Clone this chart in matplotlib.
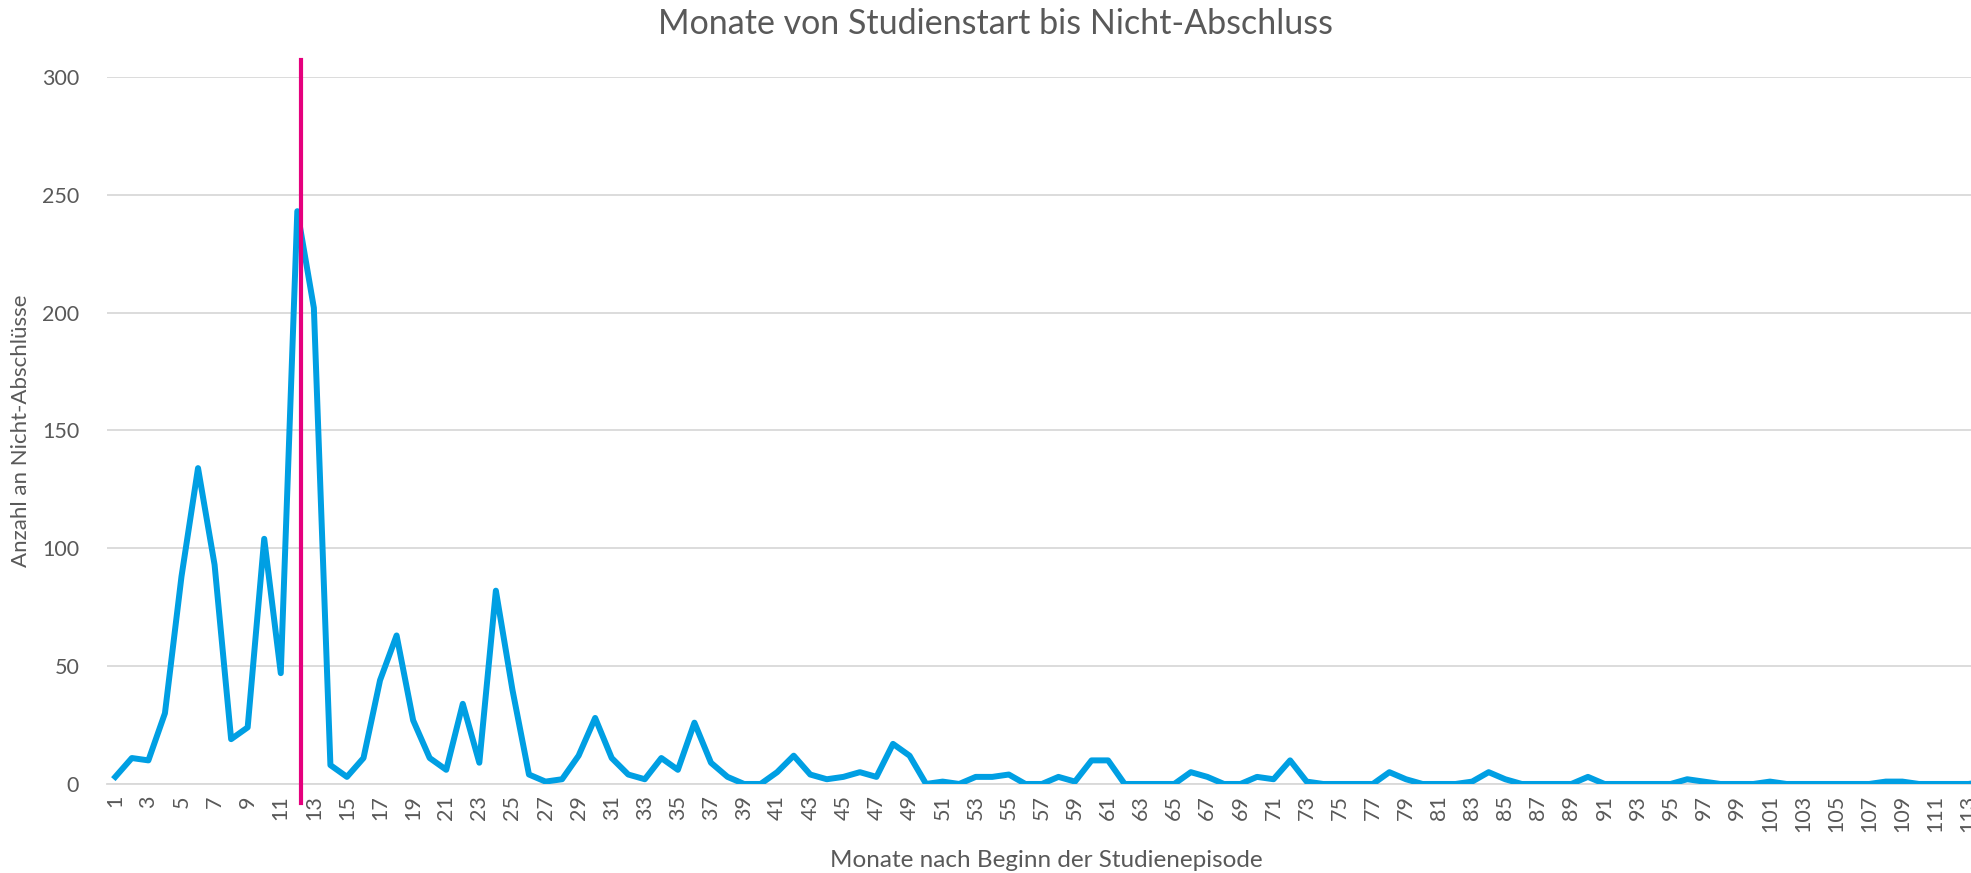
import matplotlib
matplotlib.use("Agg")
import matplotlib.pyplot as plt
import numpy as np

plt.rcParams['font.family'] = ['Lato', 'DejaVu Sans']

# Monate 1..114 (114 is only partly visible at the right edge)
monate = np.arange(1, 115)
anzahl = [3, 11, 10, 30, 88, 134, 93, 19, 24, 104,
          47, 243, 202, 8, 3, 11, 44, 63, 27, 11,
          6, 34, 9, 82, 40, 4, 1, 2, 12, 28,
          11, 4, 2, 11, 6, 26, 9, 3, 0, 0,
          5, 12, 4, 2, 3, 5, 3, 17, 12, 0,
          1, 0, 3, 3, 4, 0, 0, 3, 1, 10,
          10, 0, 0, 0, 0, 5, 3, 0, 0, 3,
          2, 10, 1, 0, 0, 0, 0, 5, 2, 0,
          0, 0, 1, 5, 2, 0, 0, 0, 0, 3,
          0, 0, 0, 0, 0, 2, 1, 0, 0, 0,
          1, 0, 0, 0, 0, 0, 0, 1, 1, 0,
          0, 0, 0, 1]
markierung_x = 12.2          # vertical marker line (between month 12 and 13)
markierung_y = (-8, 307)

blau = '#009FE3'
magenta = '#E5007D'
grau_text = '#595959'
grau_gitter = '#D9D9D9'

fig = plt.figure(figsize=(19.71, 8.73), dpi=100)
ax = fig.add_axes([0.0543, 0.102, 0.9457, 0.81])

ax.plot(monate, anzahl, color=blau, lw=4.3, solid_joinstyle='round', zorder=3)
ax.plot([markierung_x, markierung_x], markierung_y, color=magenta, lw=3,
        clip_on=False, zorder=4)

ax.set_xlim(0.5, 113.15)
ax.set_ylim(0, 300)
ax.set_yticks(np.arange(0, 301, 50))
ax.set_xticks(monate[::2])
ax.set_xticklabels([str(m) for m in monate[::2]], rotation=90)
ax.grid(axis='y', color=grau_gitter, lw=1.3)
ax.set_axisbelow(True)
for s in ['top', 'right', 'left']:
    ax.spines[s].set_visible(False)
ax.spines['bottom'].set_color(grau_gitter)
ax.spines['bottom'].set_linewidth(1.3)
ax.tick_params(axis='both', length=0, colors=grau_text, labelsize=15.5)
ax.tick_params(axis='y', pad=20)
ax.tick_params(axis='x', pad=8)

fig.text(0.505, 0.972, 'Monate von Studienstart bis Nicht-Abschluss',
         fontsize=24.5, color=grau_text, ha='center', va='center')
ax.set_xlabel('Monate nach Beginn der Studienepisode', fontsize=17.5,
              color=grau_text)
ax.xaxis.set_label_coords(0.504, -0.108)
ax.xaxis.label.set_va('center')
ax.set_ylabel('Anzahl an Nicht-Abschlüsse', fontsize=16, color=grau_text,
              labelpad=8)

fig.savefig('out.png', dpi=100)
